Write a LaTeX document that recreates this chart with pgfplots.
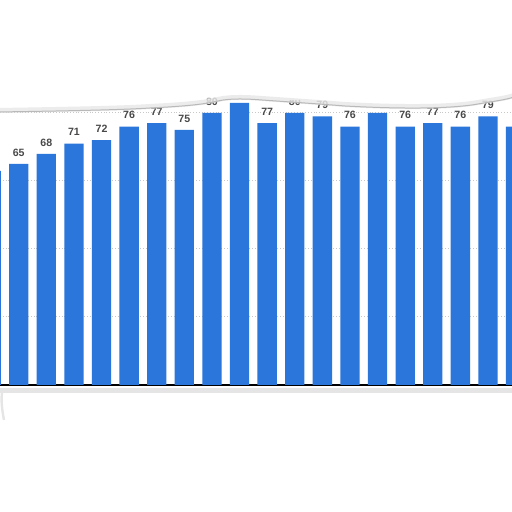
\documentclass[border=0pt]{standalone}
\usepackage{pgfplots}
\pgfplotsset{compat=1.18}
\usepackage{fontspec}
\setmainfont{Liberation Sans}
\definecolor{barblue}{RGB}{42,118,218}
\definecolor{labelgray}{RGB}{72,72,72}
\definecolor{gridgray}{RGB}{200,200,200}
\begin{document}
\begin{tikzpicture}
\useasboundingbox (0,0) rectangle (256pt,256pt);
\begin{axis}[
    at={(0pt,63.5pt)}, anchor=south west,
    scale only axis,
    width=256pt, height=192.5pt,
    xmin=0.3225, xmax=18.87,
    ymin=0, ymax=113.24,
    ybar, bar width=0.7,
    axis line style={draw=none},
    xtick=\empty,
    ytick={20,40,60,80},
    yticklabels={},
    major tick length=0pt,
    ymajorgrids=true,
    grid style={densely dotted, gridgray, line width=0.5pt},
    extra y ticks={0},
    extra y tick labels={},
    extra y tick style={grid style={solid, black, line width=0.6pt}},
    /pgf/number format/assume math mode=true,
    nodes near coords,
    every node near coord/.append style={
        font=\fontsize{5.3}{6}\selectfont\bfseries,
        text=labelgray, anchor=south, inner sep=0pt, yshift=3.6pt},
]
\addplot[draw=none, fill=barblue] coordinates {
(0,63)(1,65)(2,68)(3,71)(4,72)(5,76)(6,77)(7,75)(8,80)(9,83)
(10,77)(11,80)(12,79)(13,76)(14,80)(15,76)(16,77)(17,76)(18,79)(19,76)
};
\end{axis}
% torn paper edge and shadows, pixel coordinates from top left
\begin{scope}[x=0.5pt, y=-0.5pt, yshift=256pt]
\fill[white, opacity=0.6] (-2,-2) -- (-2,112) .. controls (60,111) and (120,110) .. (150,108)
  .. controls (190,106) and (205,104) .. (218,101) .. controls (230,98) and (250,99) .. (262,100)
  .. controls (290,102) and (320,104) .. (345,106) .. controls (400,109) and (450,109) .. (478,104)
  .. controls (495,101) and (505,100) .. (514,97) -- (514,-2) -- cycle;
\fill[white] (-2,-2) -- plot[smooth] coordinates {(-2,100) (140,100) (200,95) (214,95)
  (228,97) (260,98) (294,100) (320,98) (340,101) (362,105) (400,106) (440,105)
  (470,98) (490,97) (514,92)} -- (514,-2) -- cycle;
\draw[gray!25, line width=2.5pt, opacity=0.6] (-2,110.5) .. controls (60,109.5) and (120,108.5) .. (150,106.5)
  .. controls (190,104.5) and (205,102.5) .. (218,99.5) .. controls (230,96.5) and (250,97.5) .. (262,98.5)
  .. controls (290,100.5) and (320,102.5) .. (345,104.5) .. controls (400,107.5) and (450,107.5) .. (478,102.5)
  .. controls (495,99.5) and (505,98.5) .. (514,95.5);
\draw[gray!55, line width=0.5pt] (-2,112) .. controls (60,111) and (120,110) .. (150,108)
  .. controls (190,106) and (205,104) .. (218,101) .. controls (230,98) and (250,99) .. (262,100)
  .. controls (290,102) and (320,104) .. (345,106) .. controls (400,109) and (450,109) .. (478,104)
  .. controls (495,101) and (505,100) .. (514,97);
\draw[gray!25, line width=2.5pt, opacity=0.8] (-2,391) -- (514,391);
\draw[gray!20, line width=1.2pt] (2,393) .. controls (1,400) and (2,410) .. (4,420);
\end{scope}
\end{tikzpicture}
\end{document}
